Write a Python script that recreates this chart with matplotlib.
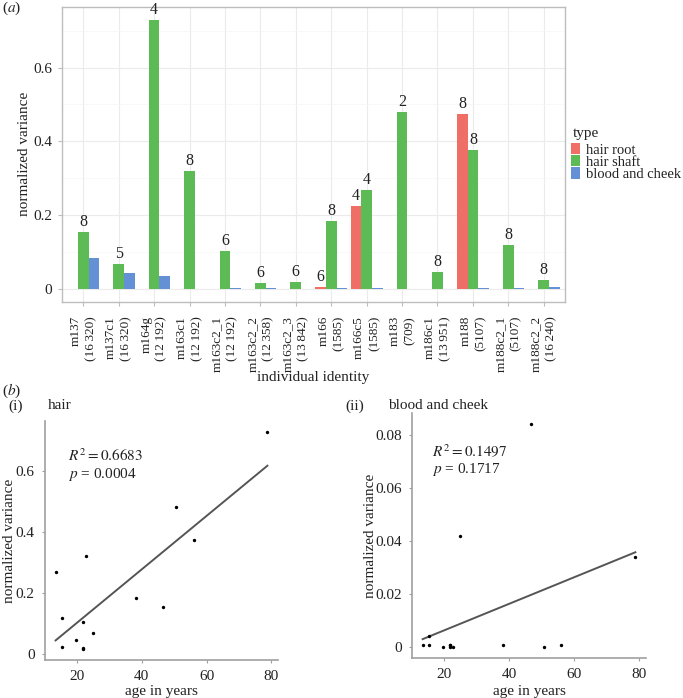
import numpy as np
import matplotlib
matplotlib.use("Agg")
import matplotlib.pyplot as plt
from matplotlib.patches import Patch
from matplotlib.transforms import ScaledTranslation

plt.rcParams['font.family'] = ['Liberation Serif', 'DejaVu Serif']
plt.rcParams['mathtext.fontset'] = 'stix'
plt.rcParams['font.size'] = 11

nan = np.nan

# individuals and mtDNA lengths (x tick labels)
individuals = ['m137', 'm137c1', 'm164g', 'm163c1', 'm163c2_1', 'm163c2_2', 'm163c2_3',
               'm166', 'm166c5', 'm183', 'm186c1', 'm188', 'm188c2_1', 'm188c2_2']
lengths = ['16\u2009320', '16\u2009320', '12\u2009192', '12\u2009192', '12\u2009192', '12\u2009358',
           '13\u2009842', '1585', '1585', '709', '13\u2009951', '5107', '5107', '16\u2009240']

# normalized variance per tissue type
hair_root = [nan, nan, nan, nan, nan, nan, nan, 0.004, 0.225, nan, nan, 0.473, nan, nan]
hair_shaft = [0.153, 0.067, 0.728, 0.320, 0.103, 0.0155, 0.019, 0.183, 0.268, 0.480, 0.0445,
              0.375, 0.119, 0.0236]
blood_cheek = [0.084, 0.042, 0.034, 0.0, 0.0006, 0.0006, 0.0, 0.0006, 0.0006, 0.0, 0.0,
               0.0006, 0.0006, 0.004]

# number of samples written above bars
n_root = [None, None, None, None, None, None, None, 6, 4, None, None, 8, None, None]
n_shaft = [8, 5, 4, 8, 6, 6, 6, 8, 4, 2, 8, 8, 8, 8]

# age of each individual (years)
ages = [46.6, 24.8, 78.8, 22.8, 21.8, 21.8, 21.8, 38.2, 13.4, 50.7, 19.7, 56.0, 15.4, 15.4]

# linear fits (intercept, slope) and stats as printed
hair_fit = (-0.0733, 0.00876)
blood_fit = (-0.0038, 0.000501)
hair_stats = ('0.6683', '0.0004')
blood_stats = ('0.1497', '0.1717')

types = ['hair root', 'hair shaft', 'blood and cheek']
colors = ['#EF6F66', '#5DBB55', '#6491D5']

W, H = 683, 698
fig = plt.figure(figsize=(W / 100, H / 100), dpi=100)


def box(l, t, r, b):
    return [l / W, 1 - b / H, (r - l) / W, (b - t) / H]


txt = '#222222'

# ---------------- (a) bar chart ----------------
ax = fig.add_axes(box(62, 7, 565, 302))
x = np.arange(len(individuals))
w = 0.3
series = [hair_root, hair_shaft, blood_cheek]
for k, (vals, c) in enumerate(zip(series, colors)):
    ax.bar(x + (k - 1) * w, np.array(vals, dtype=float), w, color=c, zorder=3, linewidth=0)

for k, (counts, vals) in enumerate([(n_root, hair_root), (n_shaft, hair_shaft)]):
    for i, n in enumerate(counts):
        if n is None:
            continue
        ax.annotate(str(n), (x[i] + (k - 1) * w, vals[i]), xytext=(0, 1.5),
                    textcoords='offset points', ha='center', va='bottom',
                    fontsize=11.5, color=txt, zorder=4)

ymax = np.nanmax(hair_root + hair_shaft + blood_cheek)
ax.set_ylim(-0.05 * ymax, 1.05 * ymax)
ax.set_xlim(-0.6, len(individuals) - 0.4)
ax.set_yticks([0, 0.2, 0.4, 0.6])
ax.set_yticklabels(['0', '0.2', '0.4', '0.6'])
ax.set_yticks([0.1, 0.3, 0.5, 0.7], minor=True)
ax.set_xticks(x)
ax.set_xticklabels([f'{n}\n({l})' for n, l in zip(individuals, lengths)],
                   rotation=90, ha='center', va='top', multialignment='right',
                   linespacing=1.35, fontsize=9.5)
# first line of each label sits on the tick, second line to its right
shift = ScaledTranslation(9 / 100, 0, fig.dpi_scale_trans)
for lbl in ax.get_xticklabels():
    lbl.set_transform(lbl.get_transform() + shift)
ax.grid(True, which='major', color='#EBEBEB', linewidth=0.8, zorder=0)
ax.grid(True, which='minor', axis='y', color='#F5F5F5', linewidth=0.5, zorder=0)
ax.tick_params(axis='both', which='major', length=3, color='#BDBDBD', labelsize=11,
               labelcolor=txt, pad=4)
ax.tick_params(axis='x', labelsize=9.5, pad=7)
ax.tick_params(axis='y', which='minor', length=0)
for s in ax.spines.values():
    s.set_color('#BDBDBD')
    s.set_linewidth(1.0)

fig.text(25 / W, 1 - 154 / H, 'normalized variance', rotation=90, ha='center', va='center',
         fontsize=11, color=txt)
fig.text(313 / W, 1 - 377 / H, 'individual identity', ha='center', va='center',
         fontsize=11, color=txt)
fig.text(2 / W, 1 - 8 / H, r'($a$)', ha='left', va='center', fontsize=11, color=txt)

# legend: title as plain text, compact rows as in the reference
fig.text(573 / W, 1 - 133 / H, 'type', ha='left', va='center', fontsize=11, color=txt)
handles = [Patch(facecolor=c, edgecolor='none') for c in colors]
leg = ax.legend(handles, types, loc='upper left',
                bbox_to_anchor=(571 / W, 1 - 143 / H), bbox_transform=fig.transFigure,
                frameon=False, handlelength=0.6, handleheight=0.8, handletextpad=0.4,
                labelspacing=-0.1, borderpad=0, borderaxespad=0, fontsize=10.5)
for t in leg.get_texts():
    t.set_color(txt)

# ---------------- (b) scatter plots ----------------
fig.text(2 / W, 1 - 391 / H, r'($b$)', ha='left', va='center', fontsize=11, color=txt)

panels = [
    (box(45, 421, 278, 660), hair_shaft, hair_fit, hair_stats, '(i)', 'hair', 8, 48,
     [0, 0.2, 0.4, 0.6], ['0', '0.2', '0.4', '0.6'], 10, (0.10, 0.854, 0.778)),
    (box(412, 413, 646, 658), blood_cheek, blood_fit, blood_stats, '(ii)', 'blood and cheek',
     345, 388, [0, 0.02, 0.04, 0.06, 0.08], ['0', '0.02', '0.04', '0.06', '0.08'], 370,
     (0.087, 0.842, 0.770)),
]

a = np.array(ages)
for rect, vals, fit, stats, num, title, xn, xt, yt, ytl, ylx, (tx, ty1, ty2) in panels:
    bx = fig.add_axes(rect)
    bx.scatter(a, vals, s=6, color='black', zorder=3, linewidths=0)
    xs = np.array([a.min(), a.max()])
    bx.plot(xs, fit[0] + fit[1] * xs, color='#555555', linewidth=1.4, zorder=2)
    bx.margins(0.05)
    bx.set_xticks([20, 40, 60, 80])
    bx.set_yticks(yt)
    bx.set_yticklabels(ytl)
    for s in ['top', 'right']:
        bx.spines[s].set_visible(False)
    for s in ['left', 'bottom']:
        bx.spines[s].set_color('#A0A0A0')
        bx.spines[s].set_linewidth(1.2)
    bx.tick_params(length=2.5, color='#A0A0A0', labelsize=11, labelcolor=txt, pad=5)
    bx.text(tx, ty1, r'$R^2 = %s$' % stats[0], transform=bx.transAxes, ha='left',
            va='center', fontsize=11, color=txt)
    bx.text(tx, ty2, r'$p$ = %s' % stats[1], transform=bx.transAxes, ha='left',
            va='center', fontsize=11, color=txt)
    l, b, w_, h_ = rect
    fig.text(ylx / W, b + h_ / 2, 'normalized variance', rotation=90, ha='center',
             va='center', fontsize=11, color=txt)
    fig.text(l + w_ / 2, 1 - 691 / H, 'age in years', ha='center', va='center',
             fontsize=11, color=txt)
    fig.text(xn / W, 1 - 406 / H, num, ha='left', va='center', fontsize=11, color=txt)
    fig.text(xt / W, 1 - 406 / H, title, ha='left', va='center', fontsize=11, color=txt)

fig.savefig('out.png', dpi=100)
